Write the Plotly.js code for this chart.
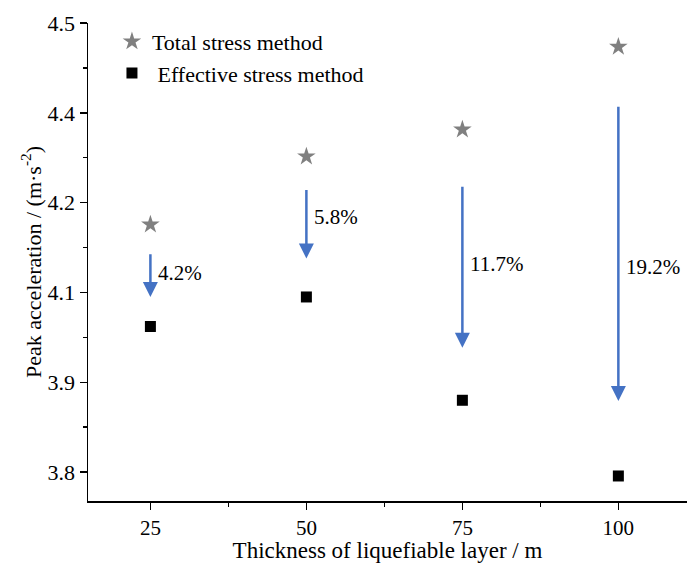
<!DOCTYPE html>
<html>
<head>
<meta charset="utf-8">
<script src="https://cdn.plot.ly/plotly-3.0.1.min.js"></script>
<style>html,body{margin:0;padding:0;background:#fff;}#chart{width:687px;height:563px;}</style>
</head>
<body>
<div id="chart"></div>
<script>
// Data
var thickness = [25, 50, 75, 100];
var totalStress = [4.186, 4.292, 4.334, 4.463];
var effectiveStress = [4.027, 4.073, 3.912, 3.794];
var reductionLabels = ['4.2%', '5.8%', '11.7%', '19.2%'];
var arrowStart = [4.142, 4.242, 4.247, 4.372];
var arrowEnd = [4.073, 4.133, 3.994, 3.911];
var labelY = [4.111, 4.197, 4.125, 4.119];
var yTickVals = [3.8, 3.94, 4.08, 4.22, 4.36, 4.5];
var yTickText = ['3.8', '3.9', '4.1', '4.2', '4.4', '4.5'];
var xTickVals = [25, 50, 75, 100];

var FONT = 'Liberation Serif';
var FS = 21;

var traces = [
  {
    x: thickness, y: totalStress, type: 'scatter', mode: 'markers',
    name: 'Total stress method',
    marker: {symbol: 'star', size: 14, color: '#808080', line: {width: 0}}
  },
  {
    x: thickness, y: effectiveStress, type: 'scatter', mode: 'markers',
    name: ' Effective stress method',
    marker: {symbol: 'square', size: 11, color: '#000000', line: {width: 0}}
  }
];

var annotations = [];
for (var i = 0; i < thickness.length; i++) {
  annotations.push({
    x: thickness[i], y: arrowEnd[i], ax: thickness[i], ay: arrowStart[i],
    xref: 'x', yref: 'y', axref: 'x', ayref: 'y',
    text: '', showarrow: true, arrowhead: 2, arrowsize: 1.2, arrowwidth: 2.5,
    arrowcolor: '#4472C4'
  });
  annotations.push({
    x: thickness[i], y: labelY[i], xref: 'x', yref: 'y',
    text: reductionLabels[i], showarrow: false, xanchor: 'left', xshift: 6,
    font: {family: FONT, size: FS, color: '#000'}
  });
}

var layout = {
  width: 687, height: 563,
  margin: {l: 88, r: 0, t: 23, b: 62},
  paper_bgcolor: '#fff', plot_bgcolor: '#fff',
  font: {family: FONT, size: FS, color: '#000'},
  showlegend: true,
  legend: {
    x: 0.04, y: 1.005, xanchor: 'left', yanchor: 'top',
    bgcolor: 'rgba(0,0,0,0)', font: {family: FONT, size: 22, color: '#000'},
    itemwidth: 30, tracegroupgap: 0
  },
  xaxis: {
    range: [15, 111], tickvals: xTickVals, ticktext: ['25', '50', '75', '100'],
    showgrid: false, zeroline: false, showline: true, linecolor: '#000', linewidth: 1.5,
    ticks: 'outside', ticklen: 7, tickwidth: 1.5, tickcolor: '#000',
    minor: {tick0: 0, dtick: 12.5, ticks: 'outside', ticklen: 4, tickwidth: 1.5, tickcolor: '#000', showgrid: false},
    tickfont: {family: FONT, size: 21, color: '#000'},
    title: {text: 'Thickness of liquefiable layer / m', font: {family: FONT, size: 23, color: '#000'}, standoff: 3}
  },
  yaxis: {
    range: [3.755, 4.5], tickvals: yTickVals, ticktext: yTickText,
    showgrid: false, zeroline: false, showline: true, linecolor: '#000', linewidth: 1.5,
    ticks: 'outside', ticklen: 7, tickwidth: 1.5, tickcolor: '#000',
    minor: {tick0: 3.8, dtick: 0.07, ticks: 'outside', ticklen: 4, tickwidth: 1.5, tickcolor: '#000', showgrid: false},
    tickfont: {family: FONT, size: 22, color: '#000'},
    title: {text: 'Peak acceleration / (m·s<sup>-2</sup>)', font: {family: FONT, size: 22, color: '#000'}, standoff: 0}
  },
  annotations: annotations
};

Plotly.newPlot('chart', traces, layout, {displayModeBar: false, staticPlot: true});
</script>
</body>
</html>
